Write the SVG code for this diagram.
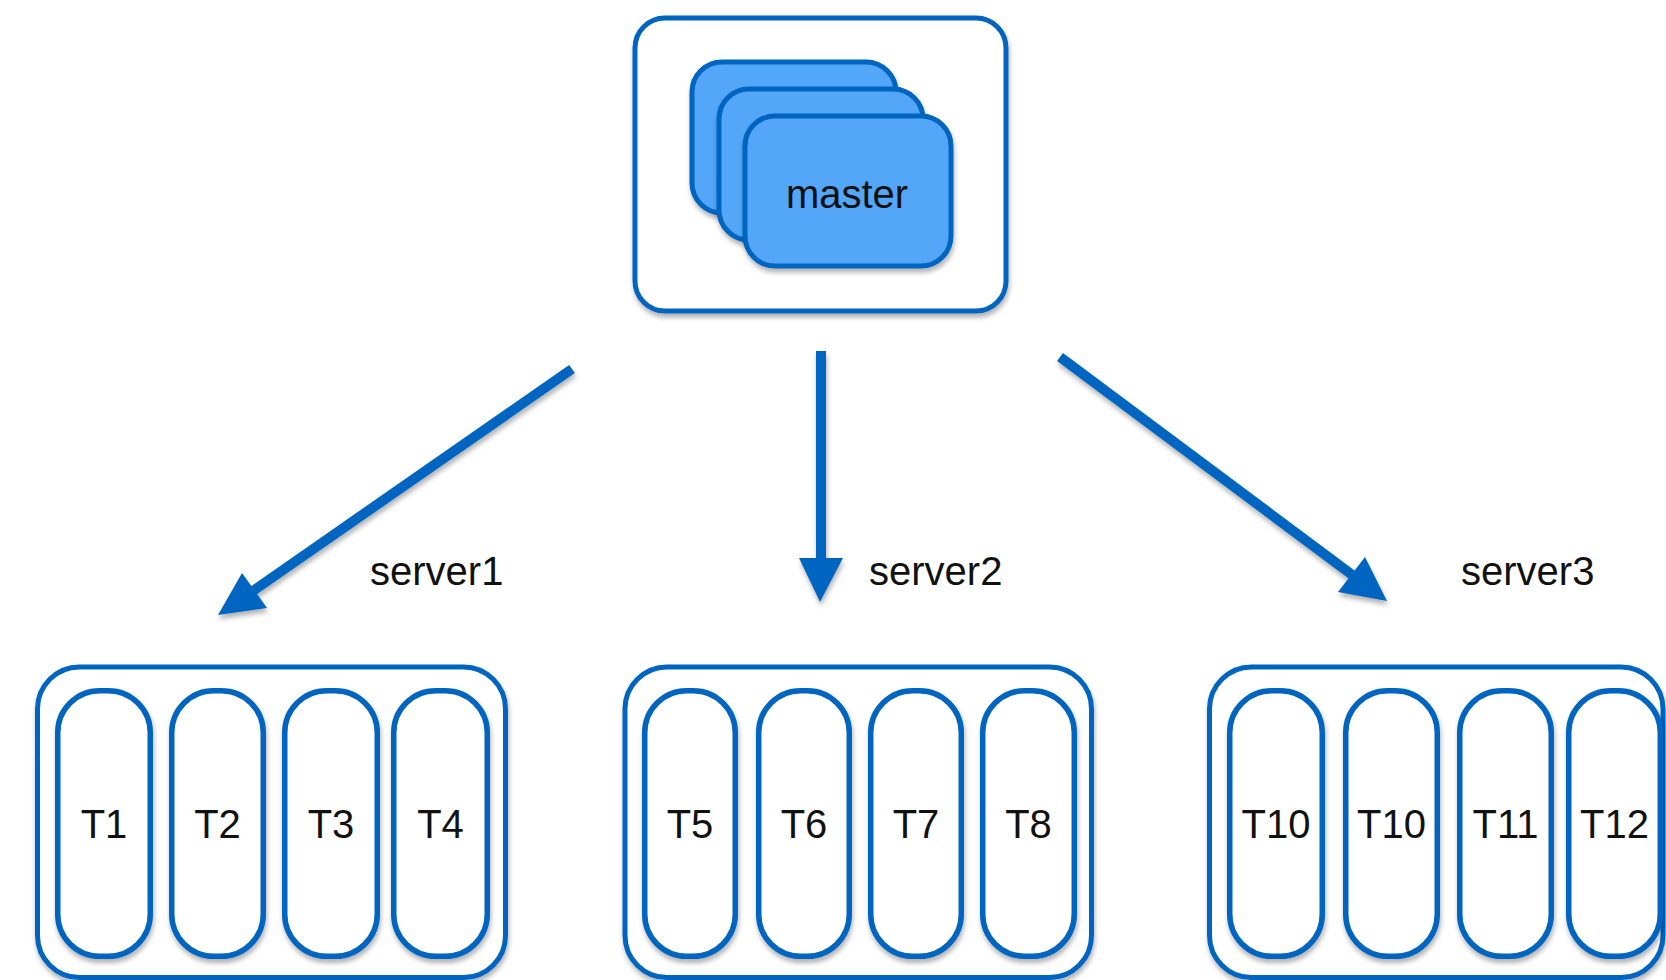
<svg xmlns="http://www.w3.org/2000/svg" width="1666" height="980" viewBox="0 0 1666 980">
<defs>
<filter id="sh" x="-20%" y="-20%" width="140%" height="140%">
<feDropShadow dx="1" dy="4" stdDeviation="2.5" flood-color="#000" flood-opacity="0.3"/>
</filter>
</defs>
<style>
.box{fill:#fff;stroke:#0565c0;stroke-width:5;filter:url(#sh)}
.pill{fill:#fff;stroke:#0565c0;stroke-width:5.5;filter:url(#sh)}
.card{fill:#52a6f8;stroke:#0565c0;stroke-width:5;filter:url(#sh)}
.t{font-family:"Liberation Sans",Arial,sans-serif;font-size:40px;fill:#111;text-anchor:middle}
.lbl{font-family:"Liberation Sans",Arial,sans-serif;font-size:40px;fill:#111}
.ln{stroke:#0565c0;stroke-width:10;fill:none}
.hd{fill:#0565c0}
</style>
<rect width="1666" height="980" fill="#fff"/>
<g id="master">
<rect class="box" x="635" y="18" width="371" height="293" rx="30"/>
<rect class="card" x="692" y="62" width="204" height="151" rx="30"/>
<rect class="card" x="719" y="89" width="204" height="151" rx="30"/>
<rect class="card" x="745" y="116" width="206" height="150" rx="30"/>
<text class="t" x="847" y="208">master</text>
</g>
<g id="connectors" filter="url(#sh)">
<line class="ln" x1="572" y1="369" x2="250" y2="593"/>
<polygon class="hd" points="218,615 242,573 267,608"/>
<line class="ln" x1="821" y1="351" x2="821" y2="560"/>
<polygon class="hd" points="799,558 843,558 820,602"/>
<line class="ln" x1="1060" y1="357" x2="1355" y2="577"/>
<polygon class="hd" points="1387,601 1338,592 1365,557"/>
</g>
<g id="label-server1"><text class="lbl" x="370" y="585">server1</text></g>
<g id="label-server2"><text class="lbl" x="869" y="585">server2</text></g>
<g id="label-server3"><text class="lbl" x="1461" y="585">server3</text></g>
<g id="server1">
<rect class="box" x="37.5" y="667" width="468" height="310.5" rx="42"/>
<rect class="pill" x="57.75" y="690.75" width="92.5" height="265.5" rx="42"/>
<rect class="pill" x="171.75" y="690.75" width="91.5" height="265.5" rx="42"/>
<rect class="pill" x="284.75" y="690.75" width="92.5" height="265.5" rx="42"/>
<rect class="pill" x="393.75" y="690.75" width="93.5" height="265.5" rx="42"/>
<text class="t" x="104" y="838">T1</text>
<text class="t" x="217.5" y="838">T2</text>
<text class="t" x="331" y="838">T3</text>
<text class="t" x="440.5" y="838">T4</text>
</g>
<g id="server2">
<rect class="box" x="625" y="667" width="466.5" height="310.5" rx="42"/>
<rect class="pill" x="644.75" y="690.75" width="90.5" height="265.5" rx="42"/>
<rect class="pill" x="758.75" y="690.75" width="90.5" height="265.5" rx="42"/>
<rect class="pill" x="870.75" y="690.75" width="90.5" height="265.5" rx="42"/>
<rect class="pill" x="982.75" y="690.75" width="91.5" height="265.5" rx="42"/>
<text class="t" x="690" y="838">T5</text>
<text class="t" x="804" y="838">T6</text>
<text class="t" x="916" y="838">T7</text>
<text class="t" x="1028.5" y="838">T8</text>
</g>
<g id="server3">
<rect class="box" x="1209.5" y="667" width="453.5" height="310.5" rx="42"/>
<rect class="pill" x="1229.75" y="690.75" width="92.5" height="265.5" rx="42"/>
<rect class="pill" x="1345.75" y="690.75" width="91.5" height="265.5" rx="42"/>
<rect class="pill" x="1459.75" y="690.75" width="91.5" height="265.5" rx="42"/>
<rect class="pill" x="1568.75" y="690.75" width="91.5" height="265.5" rx="42"/>
<text class="t" x="1276" y="838">T10</text>
<text class="t" x="1391.5" y="838">T10</text>
<text class="t" x="1505.5" y="838">T11</text>
<text class="t" x="1614.5" y="838">T12</text>
</g>
</svg>
